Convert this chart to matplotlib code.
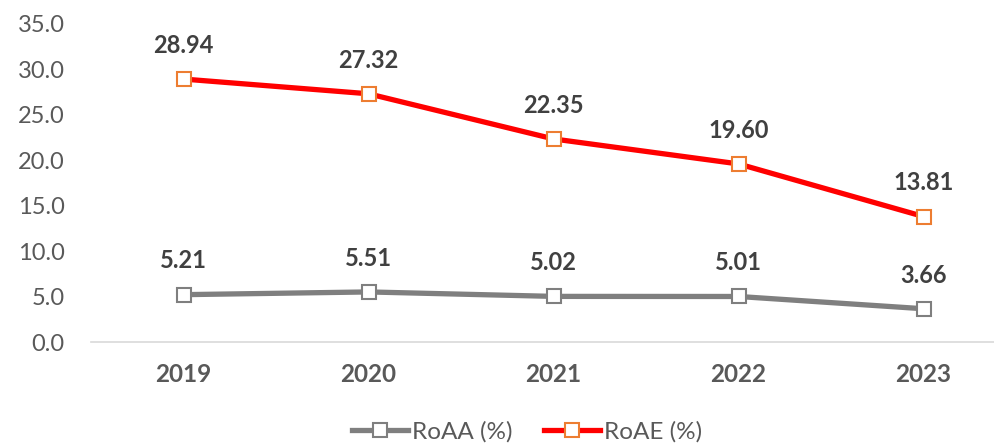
import matplotlib
matplotlib.use("Agg")
import matplotlib.pyplot as plt

years = ["2019", "2020", "2021", "2022", "2023"]
roaa = [5.21, 5.51, 5.02, 5.01, 3.66]
roae = [28.94, 27.32, 22.35, 19.60, 13.81]
yticks = [0, 5, 10, 15, 20, 25, 30, 35]

plt.rcParams['font.family'] = ['Lato', 'DejaVu Sans']

fig = plt.figure(figsize=(9.94, 4.44), dpi=100)
ax = fig.add_axes([91 / 994, 1 - 342 / 444, 1 - 91 / 994, (342 - 24) / 444])

x = list(range(len(years)))
ax.plot(x, roaa, color='#7f7f7f', lw=3.8, marker='s', ms=10,
        mfc='white', mec='#7f7f7f', mew=1.5, label='RoAA (%)', zorder=3)
ax.plot(x, roae, color='#ff0000', lw=3.8, marker='s', ms=10,
        mfc='white', mec='#ed7d31', mew=1.5, label='RoAE (%)', zorder=3)

for xi, v in zip(x, roaa):
    ax.annotate(f"{v:.2f}", (xi, v), xytext=(0, 16), textcoords='offset points',
                ha='center', va='bottom', fontsize=17, fontweight='bold', color='#404040')
for xi, v in zip(x, roae):
    ax.annotate(f"{v:.2f}", (xi, v), xytext=(0, 16), textcoords='offset points',
                ha='center', va='bottom', fontsize=17, fontweight='bold', color='#404040')

ax.set_xlim(-0.5, (994 - 91) / 185 - 0.5)
ax.set_ylim(0, 35)
ax.set_yticks(yticks)
ax.set_yticklabels([f"{t:.1f}" for t in yticks])
ax.set_xticks(x)
ax.set_xticklabels(years, fontweight='bold')

for s in ['top', 'right', 'left']:
    ax.spines[s].set_visible(False)
ax.spines['bottom'].set_color('#d9d9d9')
ax.spines['bottom'].set_linewidth(1.2)
ax.tick_params(axis='y', length=0, pad=19, labelsize=17, labelcolor='#595959')
ax.tick_params(axis='x', length=0, pad=15, labelsize=17.5, labelcolor='#595959')

fig.legend(loc='center', bbox_to_anchor=(527 / 994, 1 - 432 / 444), ncol=2,
           frameon=False, fontsize=17.5, labelcolor='#595959', handlelength=2.3,
           columnspacing=1.3, handletextpad=0.15)

fig.savefig("out.png", dpi=100)
